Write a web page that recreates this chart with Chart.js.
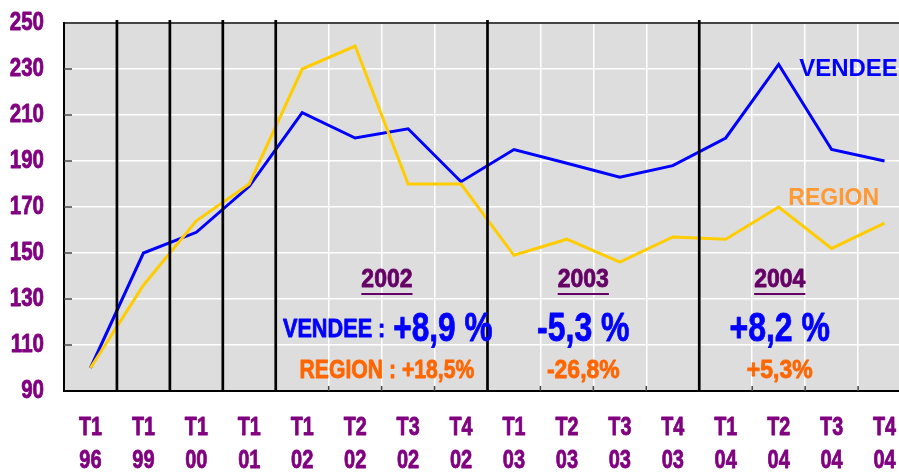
<!DOCTYPE html>
<html>
<head>
<meta charset="utf-8">
<script src="https://cdn.jsdelivr.net/npm/chart.js@4/dist/chart.umd.min.js"></script>
<style>
html, body { margin: 0; padding: 0; overflow: hidden; background: #fff; }
#wrap { width: 899px; height: 473px; overflow: hidden; }
</style>
</head>
<body>
<div id="wrap"><canvas id="myChart" width="911" height="473"></canvas></div>
<script>
const labels = [
    ['T1', '96'], ['T1', '99'], ['T1', '00'], ['T1', '01'],
    ['T1', '02'], ['T2', '02'], ['T3', '02'], ['T4', '02'],
    ['T1', '03'], ['T2', '03'], ['T3', '03'], ['T4', '03'],
    ['T1', '04'], ['T2', '04'], ['T3', '04'], ['T4', '04'],
];

const vendee = [100, 150, 159, 179, 211, 200, 204, 181, 195, 189, 183, 188, 200, 232, 195, 190];
const region = [100, 136, 164, 180, 230, 240, 180, 180, 149, 156, 146, 157, 156, 170, 152, 163];

// black separators sit before these categories
const separators = [1, 2, 3, 4, 8, 12];

// [text, x (category index), y (value), size, color, align, squeeze, underline]
const notes = [
    ['2002', 5.6, 138, 25, '#660066', 'center', 0.92, true],
    ['2003', 9.31, 138, 25, '#660066', 'center', 0.92, true],
    ['2004', 13.02, 138, 25, '#660066', 'center', 0.92, true],
    ['VENDEE :', 5.57, 116.4, 25.5, '#0000FF', 'right', 0.85],
    ['+8,9 %', 5.72, 116.4, 40, '#0000FF', 'left', 0.79],
    ['-5,3 %', 9.31, 116.4, 40, '#0000FF', 'center', 0.8],
    ['+8,2 %', 13.02, 116.4, 40, '#0000FF', 'center', 0.8],
    ['REGION : +18,5%', 5.6, 98.6, 25.5, '#FF6600', 'center', 0.83],
    ['-26,8%', 9.31, 98.6, 25.5, '#FF6600', 'center', 0.9],
    ['+5,3%', 13.02, 98.6, 25.5, '#FF6600', 'center', 0.9],
    ['VENDEE', 14.32, 229.9, 24, '#0000FF', 'center', 1],
    ['REGION', 14.04, 173.8, 23, '#FF9933', 'center', 1],
];

const fam = "'Liberation Sans', Arial, sans-serif";
const purple = '#800080';

// narrow-looking bold text: squeeze sideways, thicken a bit
function squeezeText(ctx, text, x, y, sx) {
    ctx.save();
    ctx.translate(x, y);
    ctx.scale(sx, 1);
    ctx.fillText(text, 0, 0);
    if (sx < 1) {
        ctx.strokeStyle = ctx.fillStyle;
        ctx.lineWidth = 0.8;
        ctx.lineJoin = 'round';
        ctx.strokeText(text, 0, 0);
    }
    ctx.restore();
}

const decor = {
    id: 'decor',
    beforeDraw(chart) {
        const { ctx, chartArea: a } = chart;
        ctx.save();
        ctx.fillStyle = '#DDDDDD';
        ctx.fillRect(a.left, a.top, a.right - a.left, a.bottom - a.top);
        ctx.restore();
    },
    beforeDatasetsDraw(chart) {
        const { ctx, chartArea: a, scales } = chart;
        const x = scales.x, y = scales.y;
        const half = (x.getPixelForValue(1) - x.getPixelForValue(0)) / 2;
        ctx.save();
        ctx.strokeStyle = '#444';
        ctx.lineWidth = 1.5;
        ctx.beginPath();
        for (let v = 110; v < 250; v += 20) {
            let py = y.getPixelForValue(v);
            ctx.moveTo(a.left, py);
            ctx.lineTo(a.left + 8, py);
        }
        for (let i = 1; i < labels.length; i++) {
            let px = x.getPixelForValue(i) - half;
            ctx.moveTo(px, a.bottom);
            ctx.lineTo(px, a.bottom - 5);
        }
        ctx.stroke();
        ctx.restore();
    },
    afterDatasetsDraw(chart) {
        const { ctx, chartArea: a, scales } = chart;
        const x = scales.x, y = scales.y;
        const half = (x.getPixelForValue(1) - x.getPixelForValue(0)) / 2;
        ctx.save();
        ctx.strokeStyle = '#000';
        ctx.lineWidth = 2.7;
        ctx.beginPath();
        separators.forEach(i => {
            let px = x.getPixelForValue(i) - half;
            ctx.moveTo(px, a.top - 3);
            ctx.lineTo(px, a.bottom);
        });
        ctx.stroke();

        ctx.textBaseline = 'middle';
        notes.forEach(n => {
            let px = x.getPixelForValue(n[1]);
            let py = y.getPixelForValue(n[2]);
            ctx.font = `bold ${n[3]}px ${fam}`;
            ctx.fillStyle = n[4];
            ctx.textAlign = n[5];
            squeezeText(ctx, n[0], px, py, n[6]);
            if (n[7]) {
                let w = ctx.measureText(n[0]).width * n[6];
                ctx.strokeStyle = n[4];
                ctx.lineWidth = 2;
                ctx.beginPath();
                ctx.moveTo(px - w / 2, py + 13.5);
                ctx.lineTo(px + w / 2, py + 13.5);
                ctx.stroke();
            }
        });
        ctx.restore();
    },
    // tick labels in a narrow face, placed by the scales
    afterDraw(chart) {
        const { ctx, chartArea: a, scales } = chart;
        const x = scales.x, y = scales.y;
        ctx.save();
        ctx.fillStyle = purple;
        ctx.font = `bold 26px ${fam}`;
        ctx.textBaseline = 'middle';
        ctx.textAlign = 'center';
        x.ticks.forEach((t, i) => {
            let px = x.getPixelForTick(i);
            let lines = labels[i];
            squeezeText(ctx, lines[0], px, a.bottom + 37, 0.76);
            squeezeText(ctx, lines[1], px, a.bottom + 70, 0.77);
        });
        ctx.textAlign = 'right';
        y.ticks.forEach((t, i) => {
            squeezeText(ctx, String(t.value), a.left - 20, y.getPixelForTick(i), 0.79);
        });
        ctx.restore();
    }
};

const data = {
    labels: labels,
    datasets: [
        {
            label: 'REGION',
            data: region,
            borderColor: '#FFCC00',
            borderWidth: 3,
            pointRadius: 0,
            tension: 0,
        },
        {
            label: 'VENDEE',
            data: vendee,
            borderColor: '#0000FF',
            borderWidth: 3,
            pointRadius: 0,
            tension: 0,
        },
    ],
};

const config = {
    type: 'line',
    data: data,
    plugins: [decor],
    options: {
        responsive: false,
        animation: false,
        layout: { autoPadding: false, padding: { top: 23, right: 0, left: 0, bottom: 0 } },
        plugins: {
            legend: { display: false },
            title: { display: false },
            tooltip: { enabled: false },
        },
        scales: {
            x: {
                offset: true,
                afterFit: s => { s.height = 82; },
                grid: {
                    offset: true,
                    drawTicks: false,
                    color: '#FFFFFF',
                    lineWidth: 1.5,
                },
                border: { display: true, color: '#000', width: 2 },
                ticks: { display: false, autoSkip: false },
            },
            y: {
                min: 90,
                max: 250,
                afterFit: s => { s.width = 64; },
                grid: {
                    drawTicks: false,
                    color: ctx => ctx.tick.value === 250 ? '#444' : '#FFFFFF',
                    lineWidth: ctx => ctx.tick.value === 250 ? 2 : 1.5,
                },
                border: { display: true, color: '#000', width: 2 },
                ticks: { display: false, stepSize: 20 },
            },
        },
    },
};

const myChart = new Chart(document.getElementById('myChart'), config);
</script>
</body>
</html>
